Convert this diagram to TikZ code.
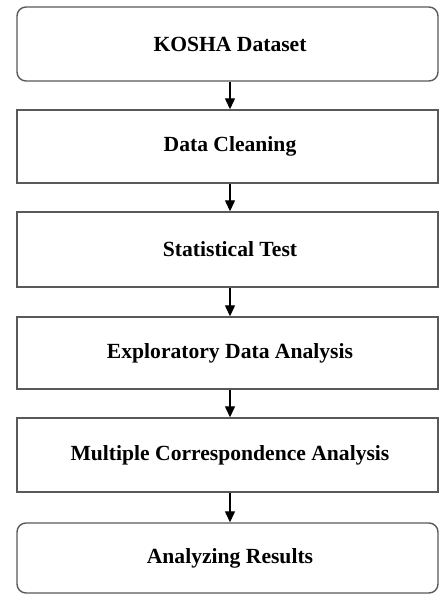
\documentclass[tikz,border=0pt]{standalone}
\usepackage{fontspec}
\setmainfont{Liberation Serif}
\usetikzlibrary{arrows.meta}
\begin{document}
\begin{tikzpicture}[x=1pt,y=-1pt,
  stagebox/.style={draw=black!65, line width=1.4pt, fill=white,
    minimum width=421pt, inner sep=0pt, font=\fontsize{21.6}{24}\selectfont\bfseries},
  flow/.style={draw=black, line width=1.3pt, -{Triangle[length=11pt,width=10pt]}}]
  \useasboundingbox (0,0) rectangle (439,594);
  % process stages
  \node[stagebox, rounded corners=9pt, minimum height=74pt] (s1) at (227.5,44) {\hspace{5pt}KOSHA Dataset};
  \node[stagebox, minimum height=73pt] (s2) at (227.5,146.5) {\hspace{5pt}Data Cleaning};
  \node[stagebox, minimum height=75pt] (s3) at (227.5,249.5) {\hspace{5pt}Statistical Test};
  \node[stagebox, minimum height=72pt] (s4) at (227.5,353) {\hspace{5pt}Exploratory Data Analysis};
  \node[stagebox, minimum height=74pt] (s5) at (227.5,455) {\hspace{5pt}Multiple Correspondence Analysis};
  \node[stagebox, rounded corners=9pt, minimum height=70pt] (s6) at (227.5,558) {\hspace{5pt}Analyzing Results};
  % connectors between consecutive stages
  \foreach \a/\b in {s1/s2,s2/s3,s3/s4,s4/s5,s5/s6}
    \draw[flow] ([xshift=2.5pt]\a.south) -- ([xshift=2.5pt]\b.north);
\end{tikzpicture}
\end{document}
